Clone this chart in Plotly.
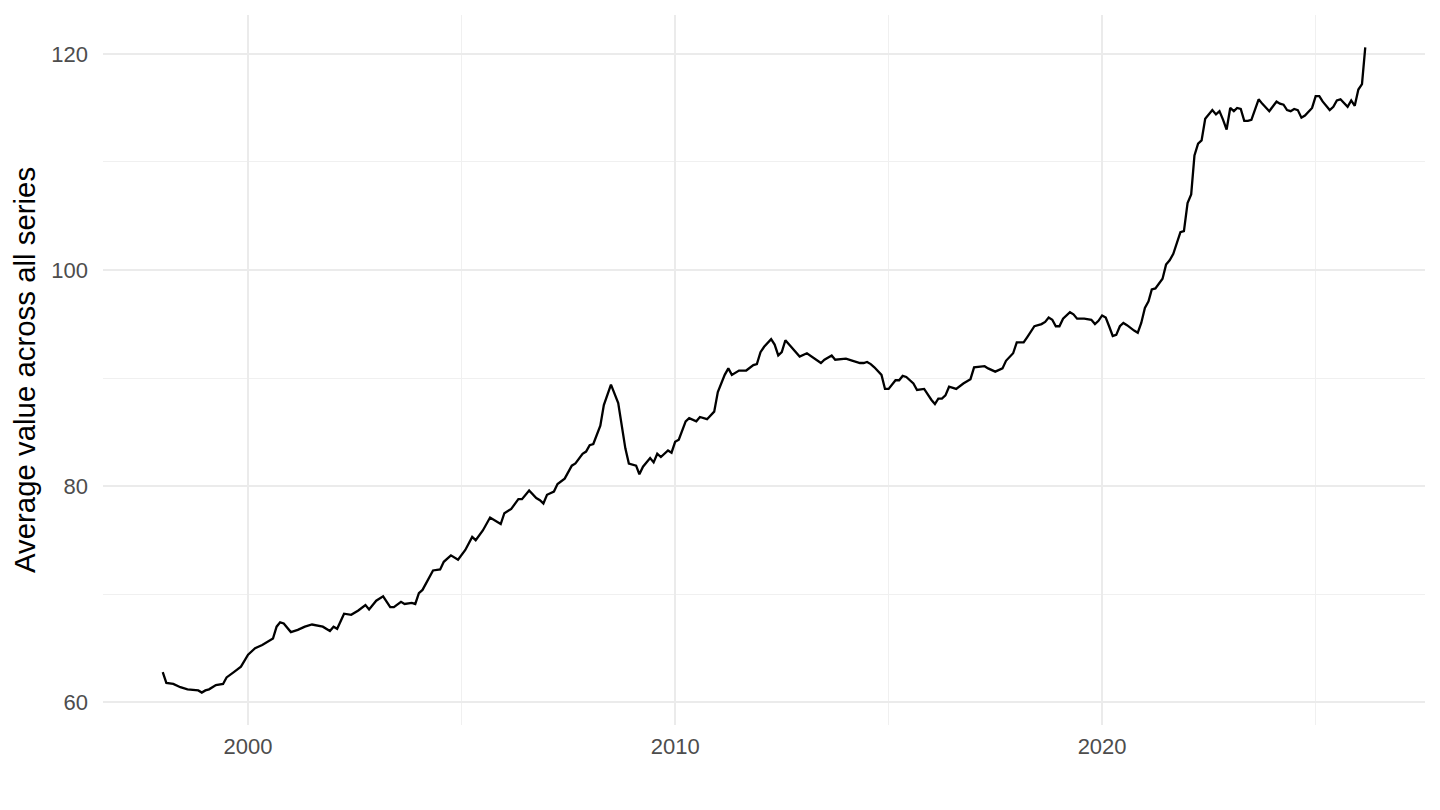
import plotly.graph_objects as go
import pandas as pd

# monthly readings of the average across all series
dates = [
    "1998-01", "1998-02", "1998-04", "1998-06", "1998-08", "1998-11", "1998-12",
    "1999-01", "1999-02", "1999-04", "1999-06", "1999-07", "1999-09", "1999-11",
    "2000-01", "2000-03", "2000-05", "2000-07", "2000-08", "2000-09", "2000-10", "2000-11",
    "2001-01", "2001-03", "2001-05", "2001-07", "2001-10", "2001-12",
    "2002-01", "2002-02", "2002-04", "2002-06", "2002-08", "2002-10", "2002-11",
    "2003-01", "2003-03", "2003-05", "2003-06", "2003-08", "2003-09", "2003-11", "2003-12",
    "2004-01", "2004-02", "2004-05", "2004-07", "2004-08", "2004-10", "2004-12",
    "2005-02", "2005-04", "2005-05", "2005-07", "2005-09", "2005-12",
    "2006-01", "2006-03", "2006-05", "2006-06", "2006-08", "2006-10", "2006-11", "2006-12",
    "2007-01", "2007-03", "2007-04", "2007-06", "2007-08", "2007-09", "2007-11", "2007-12",
    "2008-01", "2008-02", "2008-04", "2008-05", "2008-07", "2008-09", "2008-10", "2008-11", "2008-12",
    "2009-02", "2009-03", "2009-04", "2009-06", "2009-07", "2009-08", "2009-09", "2009-11", "2009-12",
    "2010-01", "2010-02", "2010-04", "2010-05", "2010-07", "2010-08", "2010-10", "2010-12",
    "2011-01", "2011-03", "2011-04", "2011-05", "2011-07", "2011-09", "2011-11", "2011-12",
    "2012-01", "2012-02", "2012-04", "2012-05", "2012-06", "2012-07", "2012-08", "2012-10", "2012-12",
    "2013-02", "2013-03", "2013-05", "2013-06", "2013-07", "2013-09", "2013-10", "2013-12",
    "2014-01", "2014-03", "2014-05", "2014-06", "2014-07", "2014-08", "2014-09", "2014-11", "2014-12",
    "2015-01", "2015-02", "2015-03", "2015-04", "2015-05", "2015-06", "2015-08", "2015-09", "2015-11",
    "2016-01", "2016-02", "2016-03", "2016-04", "2016-05", "2016-06", "2016-08", "2016-09", "2016-10", "2016-12",
    "2017-01", "2017-04", "2017-05", "2017-07", "2017-09", "2017-10", "2017-12",
    "2018-01", "2018-03", "2018-04", "2018-06", "2018-08", "2018-09", "2018-10", "2018-11", "2018-12",
    "2019-01", "2019-02", "2019-04", "2019-05", "2019-06", "2019-08", "2019-10", "2019-11", "2019-12",
    "2020-01", "2020-02", "2020-03", "2020-04", "2020-05", "2020-06", "2020-07", "2020-08", "2020-10", "2020-11", "2020-12",
    "2021-01", "2021-02", "2021-03", "2021-04", "2021-05", "2021-06", "2021-07", "2021-08", "2021-09", "2021-10", "2021-11", "2021-12",
    "2022-01", "2022-02", "2022-03", "2022-04", "2022-05", "2022-06", "2022-07", "2022-08", "2022-09", "2022-10", "2022-11", "2022-12",
    "2023-01", "2023-02", "2023-03", "2023-04", "2023-05", "2023-06", "2023-07", "2023-08", "2023-09", "2023-10", "2023-12",
    "2024-02", "2024-03", "2024-04", "2024-05", "2024-06", "2024-07", "2024-08", "2024-09", "2024-10", "2024-11", "2024-12",
    "2025-01", "2025-02", "2025-03", "2025-05", "2025-06", "2025-07", "2025-08", "2025-09", "2025-10", "2025-11", "2025-12",
    "2026-01", "2026-02", "2026-03",
]
values = [
    62.8, 61.8, 61.7, 61.4, 61.2, 61.1, 60.9,
    61.1, 61.2, 61.6, 61.7, 62.3, 62.8, 63.3,
    64.4, 65.0, 65.3, 65.7, 65.9, 67.0, 67.4, 67.3,
    66.5, 66.7, 67.0, 67.2, 67.0, 66.6,
    67.0, 66.8, 68.2, 68.1, 68.5, 69.0, 68.6,
    69.4, 69.8, 68.8, 68.8, 69.3, 69.1, 69.2, 69.1,
    70.1, 70.4, 72.2, 72.3, 73.0, 73.6, 73.2,
    74.1, 75.3, 75.0, 75.9, 77.1, 76.5,
    77.5, 77.9, 78.8, 78.8, 79.6, 78.9, 78.7, 78.4,
    79.2, 79.5, 80.2, 80.7, 81.9, 82.1, 83.0, 83.2,
    83.8, 83.9, 85.6, 87.5, 89.4, 87.7, 85.5, 83.5, 82.1,
    81.9, 81.1, 81.8, 82.6, 82.2, 83.0, 82.7, 83.3, 83.1,
    84.1, 84.3, 86.0, 86.3, 86.0, 86.4, 86.2, 86.9,
    88.7, 90.3, 90.9, 90.3, 90.7, 90.7, 91.2, 91.3,
    92.4, 92.9, 93.6, 93.1, 92.1, 92.4, 93.5, 92.8, 92.0,
    92.3, 92.1, 91.7, 91.4, 91.7, 92.1, 91.7, 91.8,
    91.8, 91.6, 91.4, 91.4, 91.5, 91.3, 91.0, 90.3, 89.0,
    89.0, 89.4, 89.8, 89.8, 90.2, 90.1, 89.5, 88.9, 89.0,
    88.0, 87.6, 88.1, 88.1, 88.4, 89.2, 89.0, 89.3, 89.5, 89.9,
    91.0, 91.1, 90.9, 90.6, 90.9, 91.6, 92.3,
    93.3, 93.3, 93.8, 94.8, 95.0, 95.2, 95.6, 95.4, 94.8,
    94.8, 95.5, 96.1, 95.9, 95.5, 95.5, 95.4, 95.0, 95.3,
    95.8, 95.6, 94.8, 93.9, 94.0, 94.8, 95.1, 94.9, 94.4, 94.2, 95.1,
    96.5, 97.1, 98.2, 98.3, 98.7, 99.2, 100.5, 100.9, 101.5, 102.6, 103.5, 103.6,
    106.2, 107.0, 110.6, 111.7, 112.0, 114.0, 114.4, 114.8, 114.4, 114.7, 113.9, 113.0,
    115.0, 114.7, 115.0, 114.9, 113.8, 113.8, 113.9, 114.9, 115.8, 115.4, 114.7,
    115.6, 115.4, 115.3, 114.8, 114.7, 114.9, 114.8, 114.1, 114.3, 114.7, 115.0,
    116.1, 116.1, 115.6, 114.8, 115.1, 115.7, 115.8, 115.4, 115.1, 115.7, 115.2,
    116.7, 117.2, 120.6,
]

x = pd.to_datetime(dates, format="%Y-%m")

fig = go.Figure(go.Scatter(
    x=x, y=values, mode="lines",
    line=dict(color="black", width=2.3),
    showlegend=False,
))

grid_major = "#ebebeb"
grid_minor = "#f0f0f0"

# page body adds an 8px offset, so margins are trimmed on left/top
fig.update_layout(
    width=1440, height=810,
    margin=dict(l=95, r=23, t=7, b=93),
    paper_bgcolor="white",
    plot_bgcolor="white",
    font=dict(family="Liberation Sans, Arial, sans-serif", color="#4d4d4d", size=22),
    xaxis=dict(
        type="date",
        range=["1996-08-08", "2027-07-25"],
        tick0="2000-01-01", dtick="M120", tickformat="%Y",
        showgrid=True, gridcolor=grid_major, gridwidth=2,
        minor=dict(tick0="2005-01-01", dtick="M120", showgrid=True, gridcolor=grid_minor, gridwidth=1.2),
        zeroline=False, showline=False, ticks="",
        ticklabelstandoff=6,
        automargin=False,
    ),
    yaxis=dict(
        range=[57.9, 123.6],
        tick0=60, dtick=20,
        showgrid=True, gridcolor=grid_major, gridwidth=2,
        minor=dict(tick0=70, dtick=20, showgrid=True, gridcolor=grid_minor, gridwidth=1.2),
        zeroline=False, showline=False, ticks="",
        ticklabelstandoff=14,
        automargin=False,
        title=dict(text="Average value across all series",
                   font=dict(size=29.4, color="black"), standoff=6),
    ),
)

fig.write_html("out.html")
